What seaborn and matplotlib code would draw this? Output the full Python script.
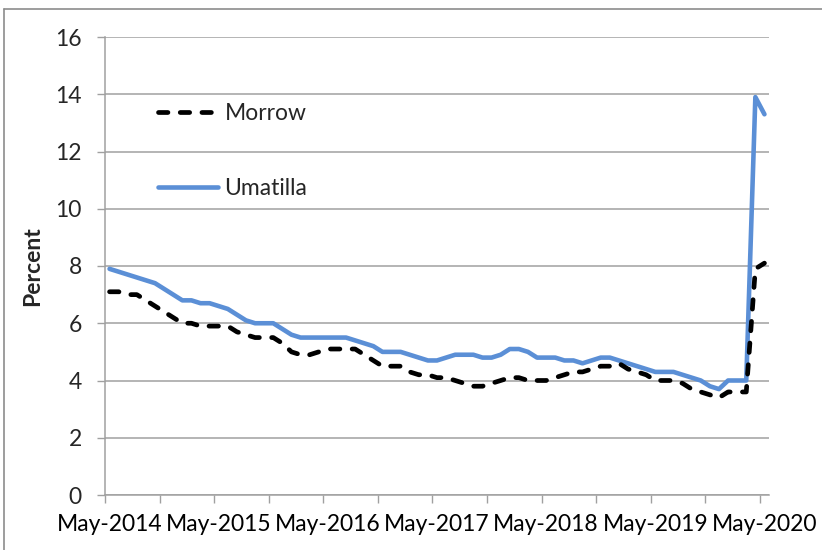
import numpy as np
import pandas as pd
import matplotlib

matplotlib.use("Agg")
import matplotlib.pyplot as plt
import seaborn as sns
from matplotlib.lines import Line2D

# Monthly unemployment rate (percent), May 2014 - May 2020
months = pd.period_range("2014-05", "2020-05", freq="M")

umatilla = [7.9, 7.8, 7.7, 7.6, 7.5, 7.4, 7.2, 7.0, 6.8, 6.8, 6.7, 6.7,
            6.6, 6.5, 6.3, 6.1, 6.0, 6.0, 6.0, 5.8, 5.6, 5.5, 5.5, 5.5,
            5.5, 5.5, 5.5, 5.4, 5.3, 5.2, 5.0, 5.0, 5.0, 4.9, 4.8, 4.7,
            4.7, 4.8, 4.9, 4.9, 4.9, 4.8, 4.8, 4.9, 5.1, 5.1, 5.0, 4.8,
            4.8, 4.8, 4.7, 4.7, 4.6, 4.7, 4.8, 4.8, 4.7, 4.6, 4.5, 4.4,
            4.3, 4.3, 4.3, 4.2, 4.1, 4.0, 3.8, 3.7, 4.0, 4.0, 4.0, 13.9,
            13.3]

morrow = [7.1, 7.1, 7.0, 7.0, 6.8, 6.6, 6.4, 6.2, 6.0, 6.0, 5.9, 5.9,
          5.9, 5.9, 5.7, 5.6, 5.5, 5.5, 5.5, 5.3, 5.0, 4.9, 4.9, 5.0,
          5.1, 5.1, 5.1, 5.1, 4.9, 4.7, 4.5, 4.5, 4.5, 4.3, 4.2, 4.2,
          4.1, 4.1, 4.0, 3.9, 3.8, 3.8, 3.9, 4.0, 4.1, 4.1, 4.0, 4.0,
          4.0, 4.1, 4.2, 4.3, 4.3, 4.4, 4.5, 4.5, 4.6, 4.4, 4.3, 4.2,
          4.0, 4.0, 4.0, 3.9, 3.7, 3.6, 3.5, 3.4, 3.6, 3.6, 3.6, 7.9,
          8.1]

y_ticks = [0, 2, 4, 6, 8, 10, 12, 14, 16]

df = pd.DataFrame({"pos": np.arange(len(months)), "Umatilla": umatilla, "Morrow": morrow})

GRAY = "#a0a0a0"
BLUE = "#5b8fd6"
FS = 16.5

sns.set_theme(style="white")
plt.rcParams["font.family"] = ["Lato", "DejaVu Sans"]

fig = plt.figure(figsize=(8.22, 5.5), dpi=100)
ax = fig.add_axes([105 / 822, 55 / 550, 664 / 822, 458 / 550])

sns.lineplot(data=df, x="pos", y="Umatilla", ax=ax, color=BLUE, lw=3.3,
             label="Umatilla", solid_capstyle="round", solid_joinstyle="round")
sns.lineplot(data=df, x="pos", y="Morrow", ax=ax, color="black", lw=3.4,
             label="Morrow", linestyle=(0, (2.0, 2.6)), dash_capstyle="round")

ax.set_xlim(-0.5, len(months) - 0.5)
ax.set_ylim(0, 16)
ax.set_yticks(y_ticks)

# year labels centred on May, tick marks every 6 months between categories
lab_pos = list(range(0, len(months), 12))
ax.set_xticks(lab_pos, [months[i].strftime("%b-%Y") for i in lab_pos])
ax.set_xticks(np.arange(-0.5, len(months), 6), minor=True)
ax.tick_params(axis="x", which="major", length=0, pad=14, labelsize=FS, colors="black")
ax.tick_params(axis="x", which="minor", length=5.8, width=1, color=GRAY, bottom=True)
ax.tick_params(axis="y", length=5.8, width=1, color=GRAY, pad=11, labelsize=FS, left=True)

ax.yaxis.grid(True, color=GRAY, lw=1.1)
ax.xaxis.grid(False)
for s in ["top", "right"]:
    ax.spines[s].set_visible(False)
for s in ["left", "bottom"]:
    ax.spines[s].set_color(GRAY)
    ax.spines[s].set_linewidth(1.1)

ax.set_xlabel("")
ax.set_ylabel("Percent", fontsize=FS, fontweight="bold")
ax.yaxis.set_label_coords(-0.093, 0.5)

h, l = ax.get_legend_handles_labels()
ax.legend(h[::-1], l[::-1], loc="upper left", bbox_to_anchor=(0.08, 0.856),
          frameon=False, fontsize=FS, handlelength=2.6, handletextpad=0.3,
          labelspacing=2.35, borderpad=0, borderaxespad=0)

# chart border (top and left visible in the frame)
fig.add_artist(Line2D([4 / 822, 1], [1 - 9 / 550] * 2, transform=fig.transFigure, color="#8c8c8c", lw=1.2))
fig.add_artist(Line2D([4 / 822] * 2, [0, 1 - 9 / 550], transform=fig.transFigure, color="#8c8c8c", lw=1.2))

fig.savefig("out.png", dpi=100)
